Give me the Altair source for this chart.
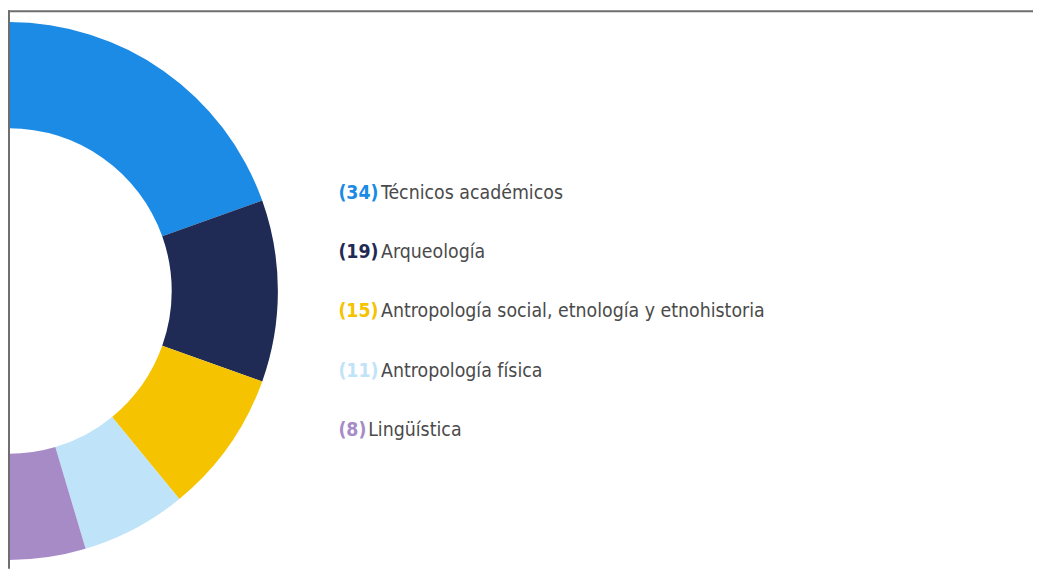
import altair as alt
import pandas as pd

# ---- data ----
nums = [34, 19, 15, 11, 8]
names = [
    "Técnicos académicos",
    "Arqueología",
    "Antropología social, etnología y etnohistoria",
    "Antropología física",
    "Lingüística",
]
colors = ["#1b8be5", "#1f2a55", "#f5c300", "#bfe3f8", "#a78bc7"]

df = pd.DataFrame({
    "cat": names,
    "n": nums,
    "idx": list(range(len(nums))),
    "numlabel": [f"({v})" for v in nums],
})

FONT = "DejaVu Sans Condensed, sans-serif"
FS = 19.5
W, H = 1033, 563
CX, CY = 1, 283

color_scale = alt.Scale(domain=names, range=colors)

base = alt.Chart(df)

donut = base.mark_arc(radius=271, radius2=164, stroke=None).encode(
    theta=alt.Theta("n:Q", stack=True, scale=alt.Scale(range=[0, 3.14159265])),
    order=alt.Order("idx:Q"),
    color=alt.Color("cat:N", scale=color_scale, legend=None),
    x=alt.value(CX),
    y=alt.value(CY),
)

yscale = alt.Scale(type="point", domain=names, range=[190, 429], padding=0)

num_text = base.mark_text(
    align="left", baseline="alphabetic", font=FONT, fontSize=FS, fontWeight="bold"
).encode(
    x=alt.value(333),
    y=alt.Y("cat:N", scale=yscale, axis=None),
    text="numlabel:N",
    color=alt.Color("cat:N", scale=color_scale, legend=None),
)

name_text = base.transform_calculate(
    nx="333 + 13 * length(datum.numlabel) - 9"
).mark_text(
    align="left", baseline="alphabetic", font=FONT, fontSize=FS, color="#4a4a4a"
).encode(
    x=alt.X("nx:Q", scale=None, axis=None),
    y=alt.Y("cat:N", scale=yscale, axis=None),
    text="cat:N",
)

frame_src = alt.Chart(pd.DataFrame({"k": [0]}))
top_line = frame_src.mark_rule(color="#6e6e6e", strokeWidth=2).encode(
    x=alt.value(0), x2=alt.value(W), y=alt.value(1)
)
left_line = frame_src.mark_rule(color="#6e6e6e", strokeWidth=2).encode(
    x=alt.value(1), y=alt.value(0), y2=alt.value(H)
)

chart = alt.layer(donut, num_text, name_text, top_line, left_line).properties(
    width=W, height=H, padding=0, autosize=alt.AutoSizeParams(type="none")
).configure_view(stroke=None).resolve_scale(color="shared")

chart.save("out.html", embed_options={"renderer": "svg", "actions": False})
